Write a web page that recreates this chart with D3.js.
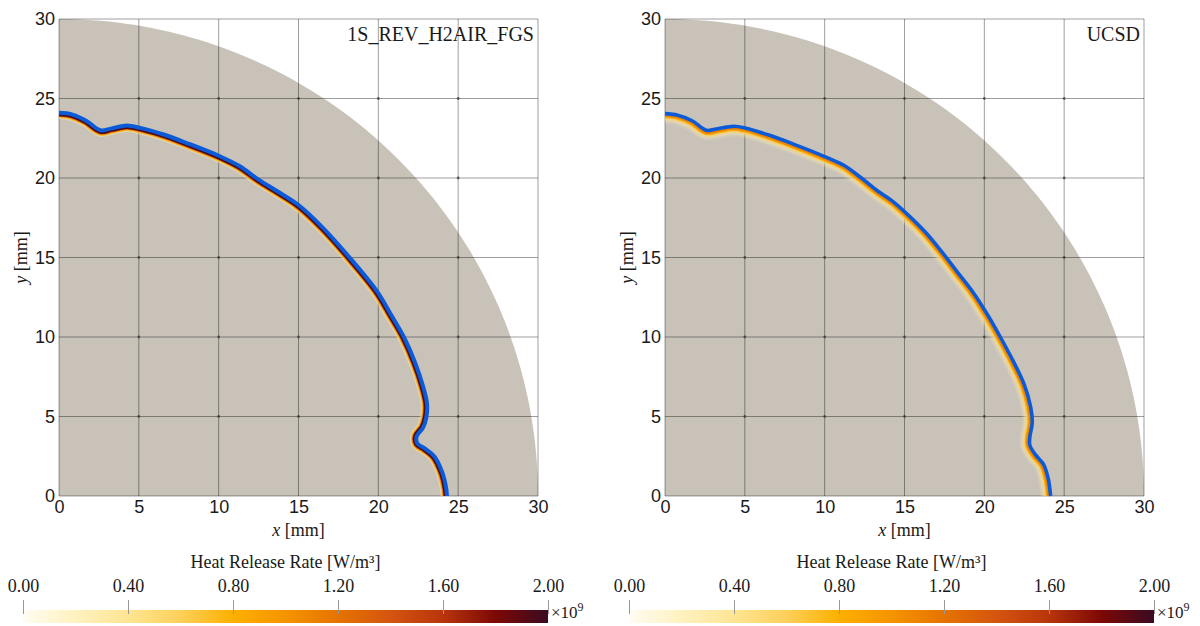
<!DOCTYPE html>
<html><head><meta charset="utf-8">
<script src="https://cdn.jsdelivr.net/npm/d3@7"></script>
<style>body{margin:0;background:#fff}</style>
</head><body>
<svg id="chart" width="1200" height="626"></svg>
<script>
// ---------- data ----------
const axisTicks = [0, 5, 10, 15, 20, 25, 30];
const domainRadius = 30;
const panelTitles = ["1S_REV_H2AIR_FGS", "UCSD"];
// flame front (blue iso-line) [x mm, y mm]
const frontFGS = [[0,24.1],[0.8,24.0],[1.7,23.6],[2.6,23.0],[3.3,23.12],[4.25,23.3],[5.1,23.15],[6.5,22.75],[8,22.2],[10,21.4],[11.3,20.75],[12.5,19.9],[13.7,19.15],[15,18.3],[16.5,16.9],[18.2,15.0],[19.9,12.9],[20.8,11.4],[21.6,10.0],[22.3,8.4],[22.8,6.9],[23.05,5.8],[23.0,4.9],[22.8,4.3],[22.4,3.75],[22.45,3.3],[22.9,3.0],[23.5,2.5],[24.0,1.5],[24.25,0.5],[24.3,0]];
const frontUCSD = [[0,24.05],[0.8,23.95],[1.7,23.6],[2.6,23.0],[3.3,23.1],[4.3,23.25],[5,23.15],[6.5,22.7],[8,22.15],[10,21.35],[11.2,20.8],[12.3,20.0],[13.3,19.2],[14.3,18.5],[15.2,17.7],[16.3,16.6],[17.3,15.4],[18.3,14.1],[19.3,12.8],[20.2,11.4],[21.0,10.0],[21.8,8.5],[22.5,7.0],[22.9,5.6],[23.0,4.6],[22.85,3.7],[22.85,3.2],[23.2,2.6],[23.7,2.0],[24.0,1.1],[24.15,0]];
// colour bar
const cbTicks = [0, 0.4, 0.8, 1.2, 1.6, 2.0];
const cbStops = [0, 0.2, 0.4, 0.6, 0.8, 1.0, 1.2, 1.4, 1.6, 1.8, 2.0];
const cbColors = ["#fffcf2","#fff2c0","#fee593","#fdd05a","#fdb000","#f59400","#e67300","#d45510","#b8350b","#7d0805","#3a0b22"];
const cbTitle = "Heat Release Rate [W/m³]";
// flame reaction-zone band: [stroke width, HRR value, opacity]
const bandFGS = [[13,0.3,0.45],[10.5,0.8,0.9],[8.5,1.3,1],[7,1.95,1]];
const bandUCSD = [[20,0.2,0.2],[16,0.35,0.35],[12.5,0.6,0.6],[9.5,0.85,0.9],[7,1.1,1]];

// ---------- drawing ----------
const svg = d3.select("#chart");
svg.append("rect").attr("width",1200).attr("height",626).attr("fill","#fff");
const color = d3.scaleLinear().domain(cbStops).range(cbColors);

const panels = [
  {x0:59, x1:538, y0:496, y1:19, cb0:23, cb1:548, front:frontFGS, band:bandFGS, title:panelTitles[0], blueW:4},
  {x0:665, x1:1144, y0:496, y1:19, cb0:629, cb1:1154, front:frontUCSD, band:bandUCSD, title:panelTitles[1], blueW:3.6}
];

const defs = svg.append("defs");
const grad = defs.append("linearGradient").attr("id","cbgrad");
cbStops.forEach((s,i)=>grad.append("stop").attr("offset",(s/2*100)+"%").attr("stop-color",cbColors[i]));

panels.forEach((p,pi)=>{
  const x = d3.scaleLinear().domain([0,30]).range([p.x0,p.x1]);
  const y = d3.scaleLinear().domain([0,30]).range([p.y0,p.y1]);
  const g = svg.append("g");

  // gray quarter disk
  const arcPts = [[0,0]].concat(d3.range(0,91).map(a=>[domainRadius*Math.cos(a*Math.PI/180), domainRadius*Math.sin(a*Math.PI/180)]));
  const poly = d3.line().x(d=>x(d[0])).y(d=>y(d[1]));
  g.append("path").attr("d",poly(arcPts)+"Z").attr("fill","#c8c2b9");

  // grid
  const gridC = "rgba(0,0,0,0.38)";
  axisTicks.forEach(t=>{
    g.append("line").attr("x1",x(t)).attr("x2",x(t)).attr("y1",y(0)).attr("y2",y(30)).attr("stroke",gridC).attr("stroke-width",1);
    g.append("line").attr("y1",y(t)).attr("y2",y(t)).attr("x1",x(0)).attr("x2",x(30)).attr("stroke",gridC).attr("stroke-width",1);
  });
  axisTicks.slice(1,-1).forEach(tx=>axisTicks.slice(1,-1).forEach(ty=>{
    g.append("circle").attr("cx",x(tx)).attr("cy",y(ty)).attr("r",1.4).attr("fill","#333").attr("opacity",0.7);
  }));

  // flame front
  const line = d3.line().x(d=>x(d[0])).y(d=>y(d[1])).curve(d3.curveCatmullRom.alpha(0.5));
  const dFront = line(p.front);
  const clipId = "inside"+pi;
  defs.append("clipPath").attr("id",clipId).append("path").attr("d", dFront + `L${x(0)},${y(0)}Z`);
  const bandG = g.append("g").attr("clip-path",`url(#${clipId})`);
  p.band.forEach(b=>{
    bandG.append("path").attr("d",dFront).attr("fill","none").attr("stroke",color(b[1])).attr("stroke-opacity",b[2])
      .attr("stroke-width",b[0]).attr("stroke-linejoin","round").attr("stroke-linecap","butt");
  });
  g.append("path").attr("d",dFront).attr("fill","none").attr("stroke","#0b5bd9").attr("stroke-width",p.blueW).attr("stroke-linejoin","round");

  // axes labels
  const ax = g.append("g").attr("transform",`translate(0,${p.y0})`)
    .call(d3.axisBottom(x).tickValues(axisTicks).tickSize(0).tickPadding(4).tickFormat(d3.format("d")));
  const ay = g.append("g").attr("transform",`translate(${p.x0},0)`)
    .call(d3.axisLeft(y).tickValues(axisTicks).tickSize(0).tickPadding(4).tickFormat(d3.format("d")));
  [ax,ay].forEach(a=>{
    a.select(".domain").remove();
    a.selectAll("text").attr("font-family","Liberation Sans, Arial, sans-serif").attr("font-size",18).attr("fill","#1a1a1a");
  });

  // axis titles
  const xt = g.append("text").attr("x",(p.x0+p.x1)/2).attr("y",536).attr("text-anchor","middle")
    .attr("font-family","Liberation Serif, Times New Roman, serif").attr("font-size",18).attr("fill","#1a1a1a");
  xt.append("tspan").attr("font-style","italic").text("x");
  xt.append("tspan").text(" [mm]");
  const yt = g.append("text").attr("transform",`translate(${p.x0-32},${(p.y0+p.y1)/2}) rotate(-90)`).attr("text-anchor","middle")
    .attr("font-family","Liberation Serif, Times New Roman, serif").attr("font-size",18).attr("fill","#1a1a1a");
  yt.append("tspan").attr("font-style","italic").text("y");
  yt.append("tspan").text(" [mm]");

  // panel title
  g.append("text").attr("x",p.x1-4).attr("y",41).attr("text-anchor","end")
    .attr("font-family","Liberation Serif, Times New Roman, serif").attr("font-size",20).attr("fill","#1a1a1a").text(p.title);

  // colour bar
  const cx = d3.scaleLinear().domain([0,2]).range([p.cb0,p.cb1]);
  const cb = svg.append("g");
  cb.append("rect").attr("x",cx(0)).attr("y",610).attr("width",cx(2)-cx(0)).attr("height",13).attr("fill","url(#cbgrad)");
  cb.append("text").attr("x",(cx(0)+cx(2))/2).attr("y",568).attr("text-anchor","middle")
    .attr("font-family","Liberation Serif, Times New Roman, serif").attr("font-size",18).attr("fill","#1a1a1a").text(cbTitle);
  const cax = cb.append("g").attr("transform","translate(0,614)")
    .call(d3.axisTop(cx).tickValues(cbTicks).tickSize(14).tickPadding(8).tickFormat(d3.format(".2f")));
  cax.select(".domain").remove();
  cax.selectAll("line").attr("stroke","#999");
  cax.selectAll("text").attr("font-family","Liberation Serif, Times New Roman, serif").attr("font-size",18).attr("fill","#1a1a1a");
  const ex = cb.append("text").attr("x",cx(2)+3).attr("y",618)
    .attr("font-family","Liberation Serif, Times New Roman, serif").attr("font-size",17).attr("fill","#1a1a1a");
  ex.append("tspan").text("×10");
  ex.append("tspan").attr("font-size",12).attr("dy",-7).text("9");
});
</script>
</body></html>
